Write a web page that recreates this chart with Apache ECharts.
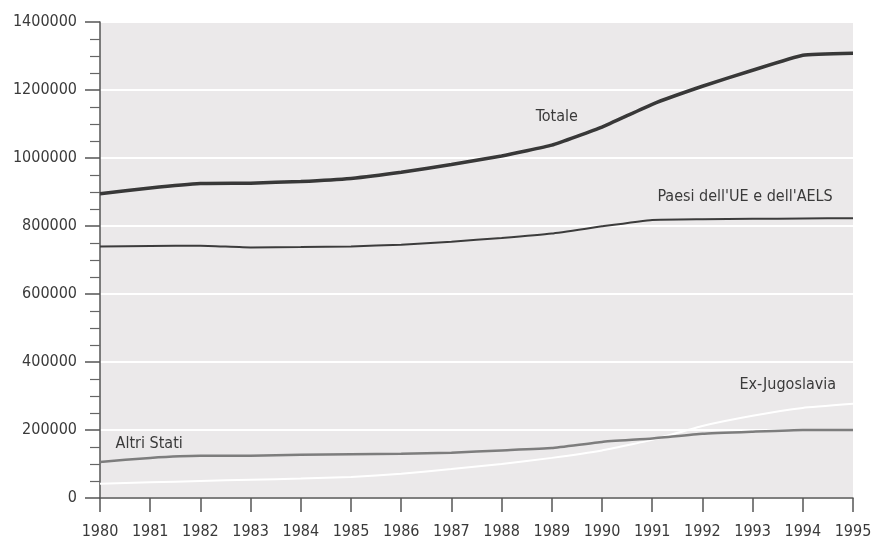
<!DOCTYPE html>
<html>
<head>
<meta charset="utf-8">
<script src="https://cdn.jsdelivr.net/npm/echarts@6/dist/echarts.min.js"></script>
<style>html,body{margin:0;padding:0;background:#fff}#c{width:879px;height:540px}</style>
</head>
<body>
<div id="c"></div>
<script>
const years = [1980,1981,1982,1983,1984,1985,1986,1987,1988,1989,1990,1991,1992,1993,1994,1995];
const totale = [895000,912000,925000,926000,931000,940000,958000,981000,1006000,1038000,1091000,1158000,1211000,1258000,1302000,1308000];
const paesiUE = [740000,741000,742000,737000,738000,740000,745000,754000,765000,778000,799000,818000,820000,821000,822000,823000];
const altriStati = [106000,118000,124000,124000,127000,129000,130000,133000,140000,147000,165000,175000,189000,195000,200000,200000];
const exJugoslavia = [42000,46000,50000,54000,57000,62000,71000,85000,100000,118000,140000,171000,212000,242000,265000,277000];
const labels = [
  {name:'Totale', coord:[1989.1, 1120000]},
  {name:"Paesi dell'UE e dell'AELS", coord:[1992.85, 885000]},
  {name:'Ex-Jugoslavia', coord:[1993.7, 332000]},
  {name:'Altri Stati', coord:[1980.98, 158000]}
];
const FONT = '"DejaVu Sans Condensed","Liberation Sans Narrow",sans-serif';
const chart = echarts.init(document.getElementById('c'));
function mk(name, data, color, width, z){
  return {name, type:'line', data: years.map((y,i)=>[y,data[i]]), showSymbol:false, symbol:'none',
    smooth:0.12, lineStyle:{color, width}, z, silent:true};
}
const series = [
  mk('Ex-Jugoslavia', exJugoslavia, '#ffffff', 2, 2),
  mk('Altri Stati', altriStati, '#7d7d7d', 2.5, 3),
  mk("Paesi dell'UE e dell'AELS", paesiUE, '#3c3c3c', 2, 4),
  mk('Totale', totale, '#383838', 3.5, 5)
];
series.push({type:'scatter', data:[], silent:true,
  markPoint:{symbol:'circle', symbolSize:0, silent:true,
    label:{show:true, position:'inside', formatter:p=>p.name, color:'#3a3a3a', fontFamily:FONT, fontSize:16},
    data: labels.map(l=>({name:l.name, coord:l.coord}))}});
chart.setOption({
  animation:false,
  backgroundColor:'#ffffff',
  grid:{left:100, right:26, top:22, bottom:42, show:true, backgroundColor:'#ebe9ea', borderWidth:0},
  xAxis:{type:'value', min:1980, max:1995, interval:1,
    axisLine:{show:true, lineStyle:{color:'#555', width:1.5}},
    axisTick:{show:true, length:14, lineStyle:{color:'#555', width:1.5}},
    axisLabel:{color:'#3a3a3a', fontFamily:FONT, fontSize:16, margin:26, formatter:v=>String(v)},
    splitLine:{show:false}},
  yAxis:{type:'value', min:0, max:1400000, interval:200000,
    axisLine:{show:true, lineStyle:{color:'#555', width:1.5}},
    axisTick:{show:true, length:15, lineStyle:{color:'#555', width:1.5}},
    minorTick:{show:true, splitNumber:4, length:10, lineStyle:{color:'#666', width:1.2}},
    axisLabel:{color:'#3a3a3a', fontFamily:FONT, fontSize:16, margin:23, formatter:v=>String(v)},
    splitLine:{show:true, lineStyle:{color:'#ffffff', width:2}}},
  series
});
</script>
</body>
</html>
